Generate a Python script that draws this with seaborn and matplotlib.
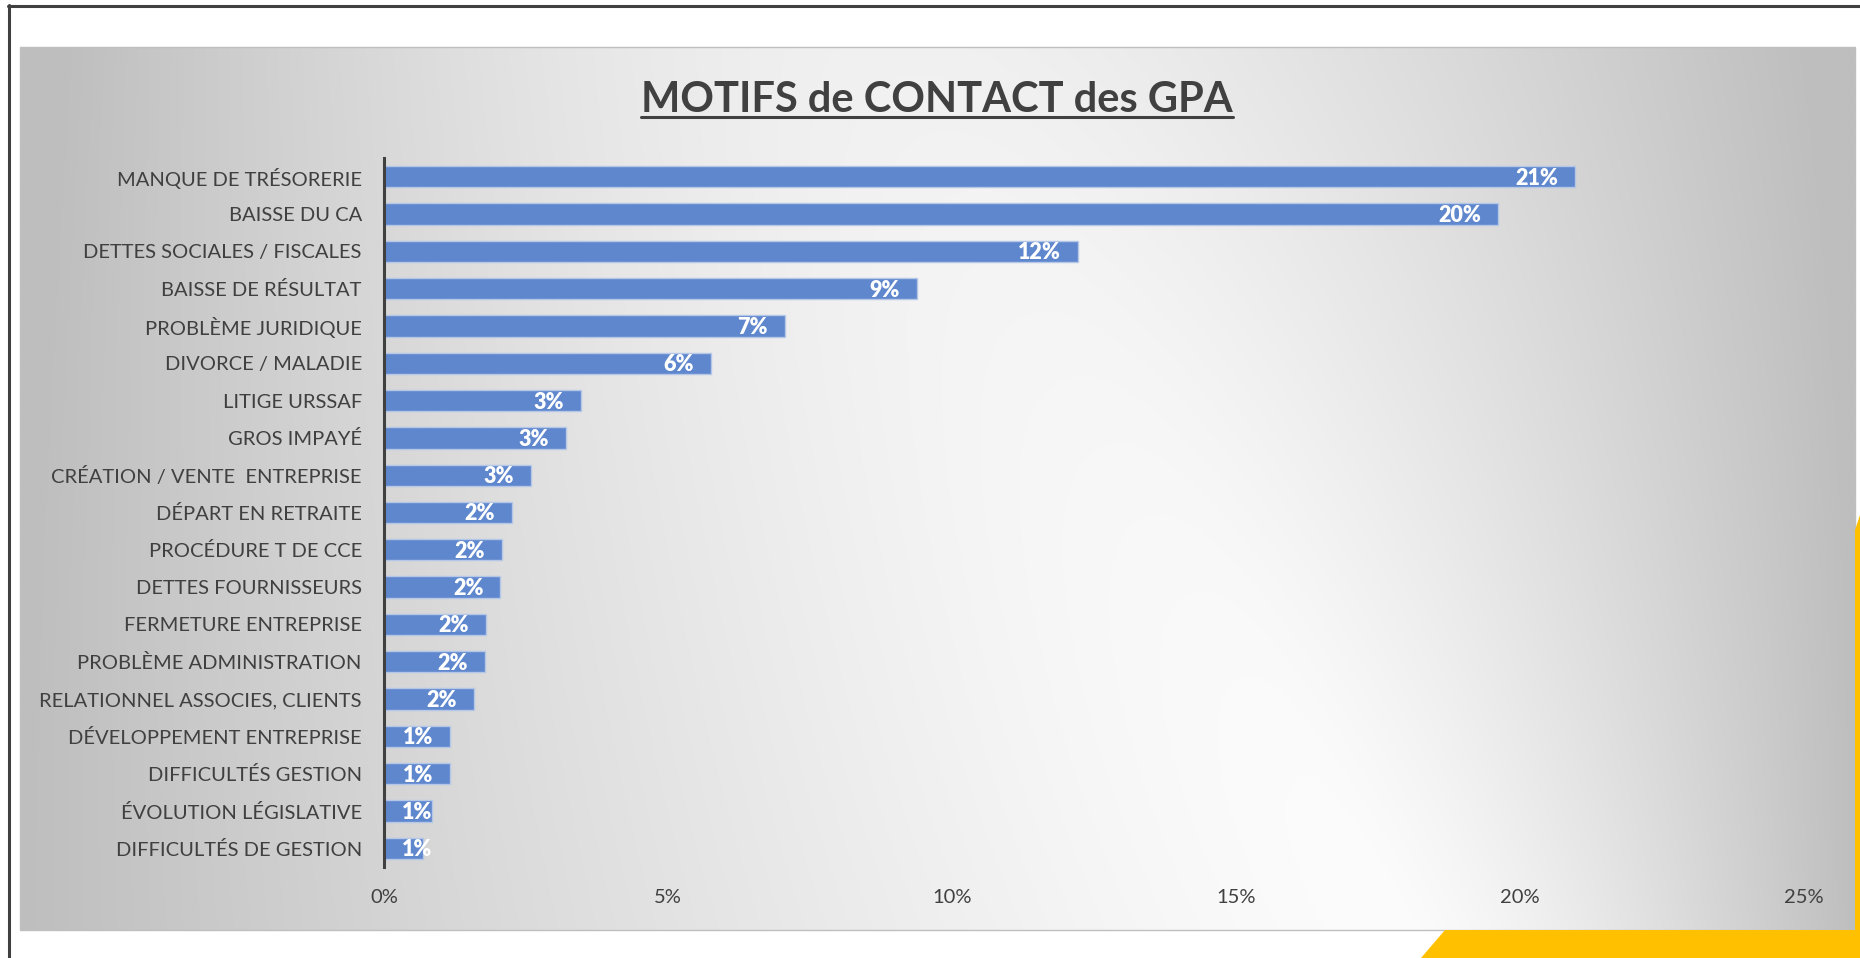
import numpy as np
import pandas as pd
import matplotlib
matplotlib.use("Agg")
import matplotlib.pyplot as plt
import seaborn as sns
from matplotlib.patches import Polygon, Rectangle
from matplotlib.lines import Line2D

# data (percent of contacts)
categories = [
    "MANQUE DE TRÉSORERIE",
    "BAISSE DU CA",
    "DETTES SOCIALES / FISCALES",
    "BAISSE DE RÉSULTAT",
    "PROBLÈME JURIDIQUE",
    "DIVORCE / MALADIE",
    "LITIGE URSSAF",
    "GROS IMPAYÉ",
    "CRÉATION / VENTE  ENTREPRISE",
    "DÉPART EN RETRAITE",
    "PROCÉDURE T DE CCE",
    "DETTES FOURNISSEURS",
    "FERMETURE ENTREPRISE",
    "PROBLÈME ADMINISTRATION",
    "RELATIONNEL ASSOCIES, CLIENTS",
    "DÉVELOPPEMENT ENTREPRISE",
    "DIFFICULTÉS GESTION",
    "ÉVOLUTION LÉGISLATIVE",
    "DIFFICULTÉS DE GESTION",
]
values = [20.97, 19.61, 12.22, 9.38, 7.06, 5.76, 3.47, 3.20, 2.59, 2.26,
          2.07, 2.05, 1.80, 1.78, 1.59, 1.17, 1.16, 0.84, 0.69]
x_ticks = [0, 5, 10, 15, 20, 25]
title = "MOTIFS de CONTACT des GPA"

sns.set_theme(style="white")
plt.rcParams['font.family'] = ['Lato', 'DejaVu Sans']

W, H = 1860, 958
fig = plt.figure(figsize=(W / 100, H / 100), dpi=100)
fig.patch.set_facecolor('white')

# background layer, pixel coordinates
bg = fig.add_axes([0, 0, 1, 1], zorder=0)
px0, px1, py0, py1 = 20, 1855, 47, 930
u = np.linspace(0, 1, 600)
v = np.linspace(0, 1, 300)
U, V = np.meshgrid(u, v)
uw = 0.48 + 0.27 * V
th = np.where(U < uw, (uw - U) / uw, (U - uw) / (1 - uw))
t = np.clip(np.sqrt(th ** 2 + (0.3 * (1 - V)) ** 2), 0, 1)
lvl = np.clip((252 - 62 * t ** 1.4) / 255, 0, 1)
img = np.dstack([lvl] * 3)
bg.imshow(img, extent=[px0, px1, py1, py0], aspect='auto', interpolation='bilinear', zorder=1)
bg.add_patch(Rectangle((px0, py0), px1 - px0, py1 - py0, fill=False, edgecolor='#bfbfbf', lw=1, zorder=2))
bg.add_patch(Polygon([(1445, 930), (1860, 930), (1860, 958), (1421, 958)], closed=True, color='#FFC000', lw=0, zorder=2))
bg.add_patch(Polygon([(1855, 530), (1860, 515), (1860, 958), (1855, 958)], closed=True, color='#FFC000', lw=0, zorder=2))
bg.add_line(Line2D([9, 9], [5, 958], color='#404040', lw=2.2, zorder=3))
bg.add_line(Line2D([8, 1860], [6, 6], color='#404040', lw=2.2, zorder=3))
bg.set_xlim(0, W)
bg.set_ylim(H, 0)
bg.axis('off')

# main chart
ax = fig.add_axes([384 / W, 1 - 867 / H, 1420 / W, 709 / H], zorder=2)
ax.patch.set_alpha(0)
df = pd.DataFrame({'motif': categories, 'part': values})
sns.barplot(data=df, x='part', y='motif', orient='h', color='#5F87CD', saturation=1,
            width=0.57, edgecolor='#B4C7E7', linewidth=1, ax=ax)
ax.set_xlim(0, 25)
ax.set_ylim(18.5, -0.5)
ax.set_xticks(x_ticks)
ax.set_xticklabels([f"{x}%" for x in x_ticks])
ax.set_xlabel('')
ax.set_ylabel('')
for s in ['top', 'right', 'bottom']:
    ax.spines[s].set_visible(False)
ax.spines['left'].set_color('#404040')
ax.spines['left'].set_linewidth(2.2)
ax.tick_params(axis='both', length=0, labelsize=14.5, labelcolor='#404040', pad=16)
ax.grid(False)

# data labels, inside end (pushed right of the axis when the bar is too short)
for i, val in enumerate(values):
    ax.text(max(val - 0.3, 0.85), i + 0.04, f"{round(val)}%", ha='right', va='center',
            color='white', fontweight='heavy', fontsize=15.5)

ttl = fig.text(937 / W, 1 - 100 / H, title, ha='center', va='center', fontsize=30,
               fontweight='bold', color='#404040')
fig.canvas.draw()
bb = ttl.get_window_extent()
inv = fig.transFigure.inverted()
(x0, y0), (x1, _) = inv.transform([(bb.x0, bb.y0 + 2), (bb.x1, bb.y0 + 2)])
fig.add_artist(Line2D([x0, x1], [y0, y0], transform=fig.transFigure, color='#404040', lw=2.2))

fig.savefig('out.png', dpi=100)
